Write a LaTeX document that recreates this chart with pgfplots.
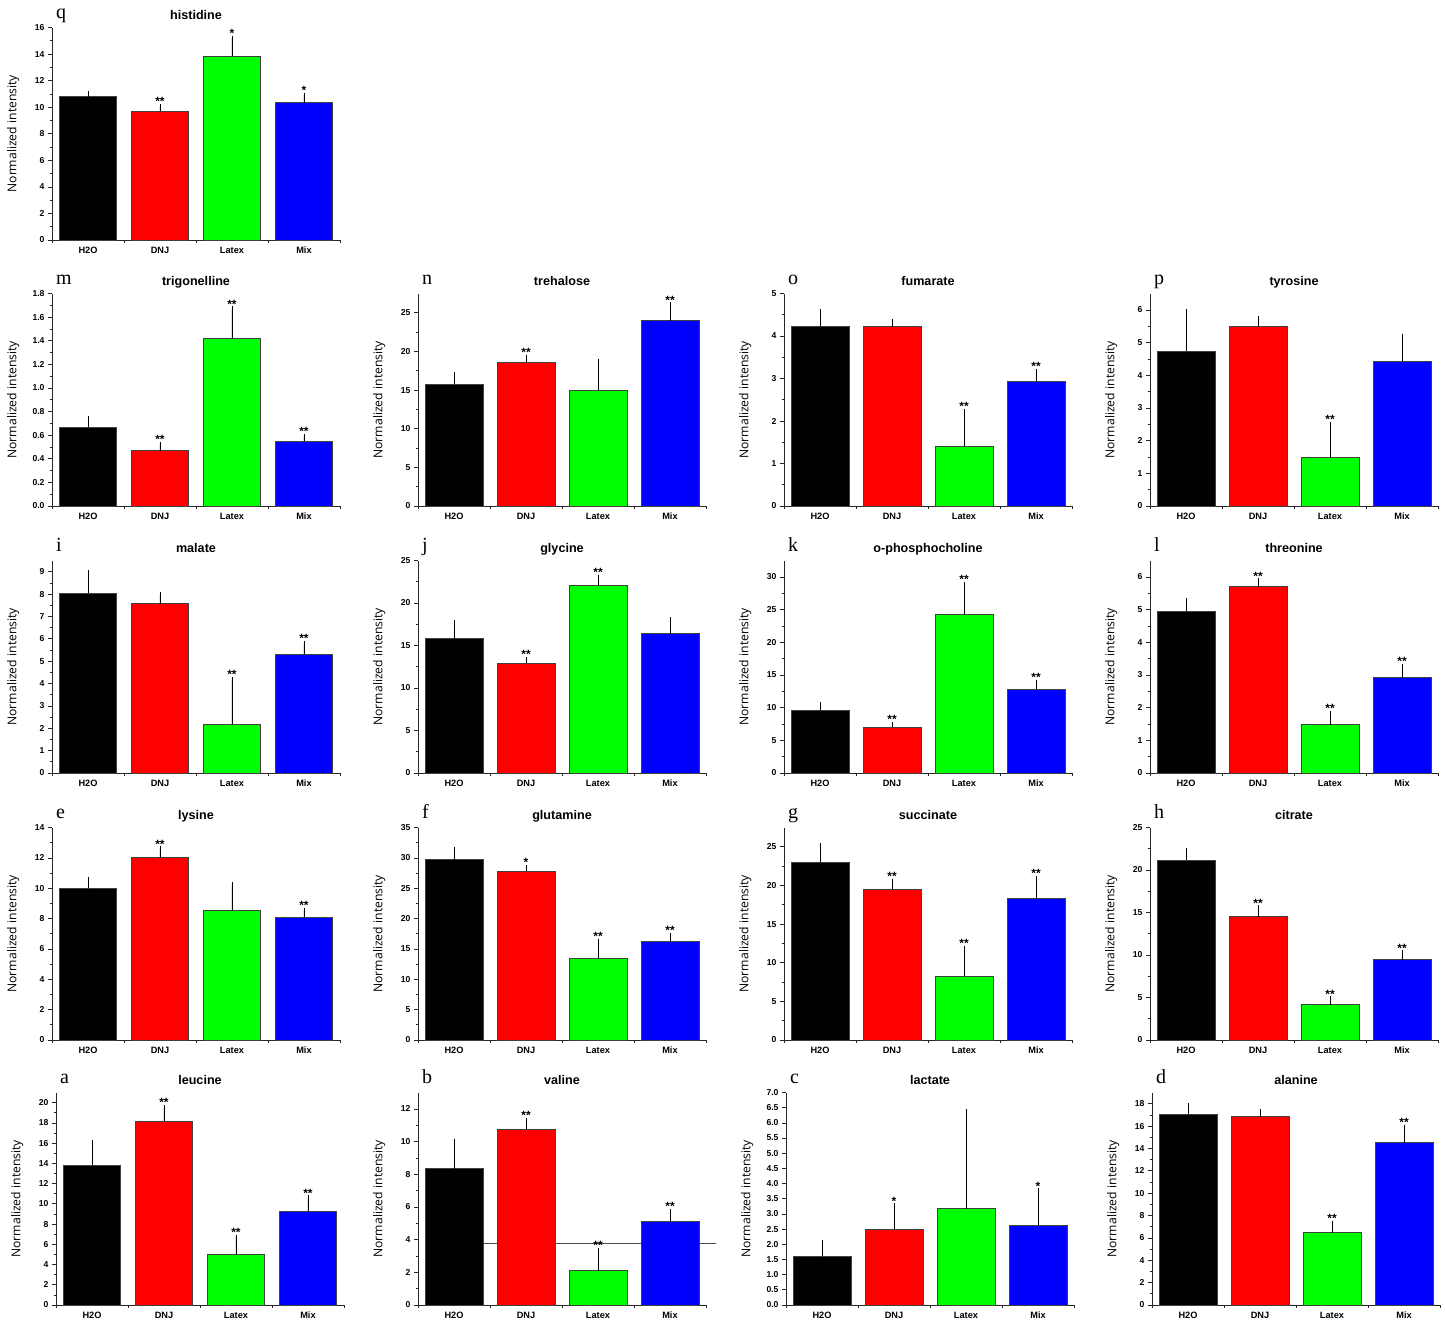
\documentclass[border=0pt]{standalone}
\usepackage{fontspec}
\setmainfont{Liberation Sans}
\newfontfamily\serifl{Liberation Serif}
\newfontfamily\ylabf{Open Sans}
\usepackage{pgfplots}
\pgfplotsset{compat=1.18}
\pgfplotsset{
 panel/.style={
  scale only axis, width=288pt, height=212.5pt,
  xmin=0, xmax=4, ymin=0, clip=false,
  axis x line*=bottom, axis y line*=left,
  axis line style={line width=0.8pt, black!85},
  tick style={black!85, line width=0.7pt},
  tick align=outside,
  major tick length=4pt, minor tick length=2.5pt,
  xtick={0.5,1.5,2.5,3.5},
  xticklabels={H2O,DNJ,Latex,Mix},
  major x tick style={draw=none},
  minor xtick={0,1,2,3,4},
  minor y tick num=1,
  scaled y ticks=false,
  ybar, bar width=0.8,
  /pgf/number format/assume math mode=true,
  yticklabel style={font=\bfseries\fontsize{8.6}{9}\selectfont},
  xticklabel style={font=\bfseries\fontsize{9.2}{10}\selectfont, text height=6.8pt, text depth=0pt, yshift=1pt},
  ylabel={Normalized intensity},
  every axis y label/.style={at={(axis description cs:-0.135,0.5)}, rotate=90, anchor=center, font=\ylabf\fontsize{12.2}{13}\selectfont},
  every axis title/.style={at={(axis description cs:0.5,1)}, anchor=base, yshift=8pt, font=\bfseries\fontsize{12.6}{13}\selectfont},
  nodes near coords style={anchor=south, font=\bfseries\fontsize{12}{12}\selectfont, inner sep=0.5pt},
 },
 eb/.style={bar shift=0pt, draw=black!75, line width=0.6pt, error bars/.cd, y dir=plus, y explicit, error bar style={black, line width=0.7pt}, error mark options={black, mark size=2.5pt, line width=0.7pt}},
 stars/.style={bar shift=0pt, draw=none, fill=none, nodes near coords, point meta=explicit symbolic},
 dec1/.style={yticklabel style={/pgf/number format/.cd, fixed, fixed zerofill, precision=1}},
}
\tikzset{letter/.style={anchor=base west, font=\serifl\fontsize{20}{21}\selectfont, inner sep=0pt, xshift=4pt, yshift=9pt}}
\definecolor{gg}{RGB}{0,255,0}
\newcommand{\bars}[8]{%
\addplot[fill=black, eb] coordinates {(0.5,#1) +- (0,#2)};
\addplot[fill=red, eb] coordinates {(1.5,#3) +- (0,#4)};
\addplot[fill=gg, eb] coordinates {(2.5,#5) +- (0,#6)};
\addplot[fill=blue, eb] coordinates {(3.5,#7) +- (0,#8)};
}
\begin{document}
\begin{tikzpicture}
\path[use as bounding box] (0,0) rectangle (1445pt,-1323pt);
% ---- row 1
\begin{axis}[panel, at={(52pt,-240pt)}, anchor=south west, ymax=16, ytick={0,2,...,16}, title={histidine}]
\bars{10.8}{0.23}{9.72}{0.33}{13.82}{1.35}{10.35}{0.55}
\addplot[stars] coordinates {(1.5,10.05)[**] (2.5,15.17)[*] (3.5,10.9)[*]};
\node[letter] at (rel axis cs:0,1) {q};
\end{axis}
% ---- row 2
\begin{axis}[panel, dec1, at={(52pt,-506pt)}, anchor=south west, ymax=1.8, ytick={0,0.2,...,1.8}, title={trigonelline}]
\bars{0.67}{0.07}{0.47}{0.05}{1.42}{0.25}{0.55}{0.04}
\addplot[stars] coordinates {(1.5,0.52)[**] (2.5,1.67)[**] (3.5,0.59)[**]};
\node[letter] at (rel axis cs:0,1) {m};
\end{axis}
\begin{axis}[panel, at={(418pt,-506pt)}, anchor=south west, ymax=27.5, ytick={0,5,...,25}, title={trehalose}]
\bars{15.8}{1.2}{18.6}{0.65}{14.95}{3.75}{24.0}{2.05}
\addplot[stars] coordinates {(1.5,19.25)[**] (3.5,26.05)[**]};
\node[letter] at (rel axis cs:0,1) {n};
\end{axis}
\begin{axis}[panel, at={(784pt,-506pt)}, anchor=south west, ymax=5, ytick={0,1,...,5}, title={fumarate}]
\bars{4.23}{0.34}{4.22}{0.13}{1.41}{0.82}{2.94}{0.23}
\addplot[stars] coordinates {(2.5,2.23)[**] (3.5,3.17)[**]};
\node[letter] at (rel axis cs:0,1) {o};
\end{axis}
\begin{axis}[panel, at={(1150pt,-506pt)}, anchor=south west, ymax=6.5, ytick={0,1,...,6}, title={tyrosine}]
\bars{4.73}{1.23}{5.5}{0.25}{1.49}{1.01}{4.43}{0.77}
\addplot[stars] coordinates {(2.5,2.5)[**]};
\node[letter] at (rel axis cs:0,1) {p};
\end{axis}
% ---- row 3
\begin{axis}[panel, at={(52pt,-773pt)}, anchor=south west, ymax=9.5, ytick={0,1,...,9}, title={malate}]
\bars{8.05}{0.91}{7.57}{0.40}{2.2}{1.98}{5.32}{0.48}
\addplot[stars] coordinates {(2.5,4.18)[**] (3.5,5.8)[**]};
\node[letter] at (rel axis cs:0,1) {i};
\end{axis}
\begin{axis}[panel, at={(418pt,-773pt)}, anchor=south west, ymax=25, ytick={0,5,...,25}, title={glycine}]
\bars{15.8}{1.9}{12.9}{0.45}{22.1}{0.95}{16.4}{1.65}
\addplot[stars] coordinates {(1.5,13.35)[**] (2.5,23.05)[**]};
\node[letter] at (rel axis cs:0,1) {j};
\end{axis}
\begin{axis}[panel, at={(784pt,-773pt)}, anchor=south west, ymax=32.5, ytick={0,5,...,30}, title={o-phosphocholine}]
\bars{9.6}{0.9}{7.05}{0.35}{24.3}{4.6}{12.85}{1.05}
\addplot[stars] coordinates {(1.5,7.4)[**] (2.5,28.9)[**] (3.5,13.9)[**]};
\node[letter] at (rel axis cs:0,1) {k};
\end{axis}
\begin{axis}[panel, at={(1150pt,-773pt)}, anchor=south west, ymax=6.5, ytick={0,1,...,6}, title={threonine}]
\bars{4.95}{0.32}{5.7}{0.18}{1.48}{0.35}{2.92}{0.34}
\addplot[stars] coordinates {(1.5,5.88)[**] (2.5,1.83)[**] (3.5,3.26)[**]};
\node[letter] at (rel axis cs:0,1) {l};
\end{axis}
% ---- row 4
\begin{axis}[panel, at={(52pt,-1040pt)}, anchor=south west, ymax=14, ytick={0,2,...,14}, title={lysine}]
\bars{10.0}{0.6}{12.05}{0.55}{8.55}{1.67}{8.08}{0.45}
\addplot[stars] coordinates {(1.5,12.6)[**] (3.5,8.53)[**]};
\node[letter] at (rel axis cs:0,1) {e};
\end{axis}
\begin{axis}[panel, at={(418pt,-1040pt)}, anchor=south west, ymax=35, ytick={0,5,...,35}, title={glutamine}]
\bars{29.7}{1.7}{27.8}{0.6}{13.45}{2.8}{16.25}{0.95}
\addplot[stars] coordinates {(1.5,28.4)[*] (2.5,16.25)[**] (3.5,17.2)[**]};
\node[letter] at (rel axis cs:0,1) {f};
\end{axis}
\begin{axis}[panel, at={(784pt,-1040pt)}, anchor=south west, ymax=27.5, ytick={0,5,...,25}, title={succinate}]
\bars{23.0}{2.15}{19.5}{1.0}{8.3}{3.6}{18.4}{2.5}
\addplot[stars] coordinates {(1.5,20.5)[**] (2.5,11.9)[**] (3.5,20.9)[**]};
\node[letter] at (rel axis cs:0,1) {g};
\end{axis}
\begin{axis}[panel, at={(1150pt,-1040pt)}, anchor=south west, ymax=25, ytick={0,5,...,25}, title={citrate}]
\bars{21.15}{1.15}{14.5}{1.05}{4.15}{0.7}{9.45}{0.8}
\addplot[stars] coordinates {(1.5,15.55)[**] (2.5,4.85)[**] (3.5,10.25)[**]};
\node[letter] at (rel axis cs:0,1) {h};
\end{axis}
% ---- row 5
\begin{axis}[panel, at={(56pt,-1305pt)}, anchor=south west, ymax=21, ytick={0,2,...,20}, title={leucine}]
\bars{13.8}{2.25}{18.15}{1.35}{5.02}{1.66}{9.3}{1.3}
\addplot[stars] coordinates {(1.5,19.5)[**] (2.5,6.68)[**] (3.5,10.6)[**]};
\node[letter] at (rel axis cs:0,1) {a};
\end{axis}
\begin{axis}[panel, at={(418pt,-1305pt)}, anchor=south west, ymax=13, ytick={0,2,...,12}, title={valine}]
\addplot[sharp plot, black!70, line width=0.8pt, forget plot] coordinates {(0.5,3.75) (4.14,3.75)};
\bars{8.35}{1.67}{10.75}{0.55}{2.1}{1.23}{5.15}{0.6}
\addplot[stars] coordinates {(1.5,11.3)[**] (2.5,3.33)[**] (3.5,5.75)[**]};
\node[letter] at (rel axis cs:0,1) {b};
\end{axis}
\begin{axis}[panel, dec1, at={(786pt,-1305pt)}, anchor=south west, ymax=7, ytick={0,0.5,...,7}, minor y tick num=0, title={lactate}]
\bars{1.6}{0.47}{2.5}{0.77}{3.17}{3.2}{2.62}{1.14}
\addplot[stars] coordinates {(1.5,3.27)[*] (3.5,3.76)[*]};
\node[letter] at (rel axis cs:0,1) {c};
\end{axis}
\begin{axis}[panel, at={(1152pt,-1305pt)}, anchor=south west, ymax=19, ytick={0,2,...,18}, title={alanine}]
\bars{17.05}{0.75}{16.85}{0.45}{6.48}{0.82}{14.52}{1.38}
\addplot[stars] coordinates {(2.5,7.3)[**] (3.5,15.9)[**]};
\node[letter] at (rel axis cs:0,1) {d};
\end{axis}
\end{tikzpicture}
\end{document}
